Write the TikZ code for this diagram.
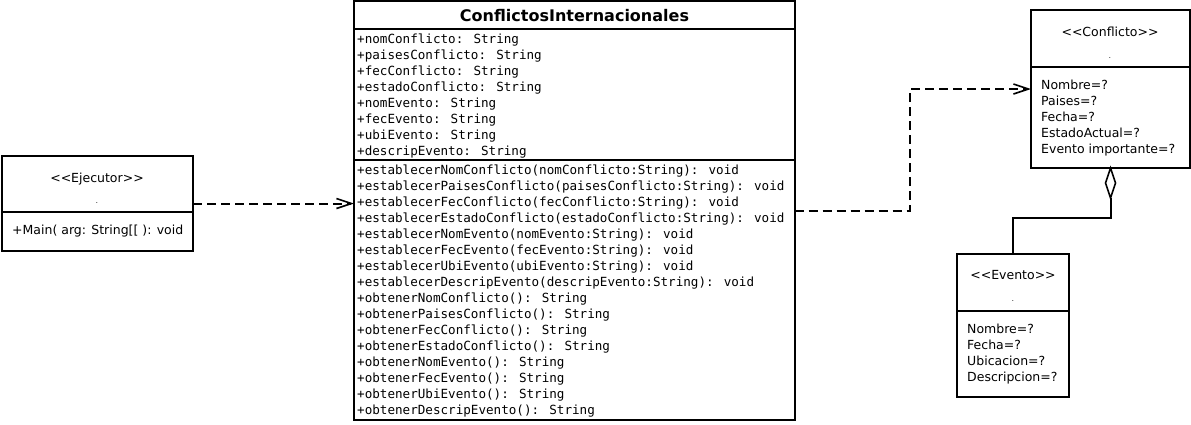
\documentclass[tikz,border=0pt]{standalone}
\usepackage{fontspec}
\setmainfont{DejaVu Sans}
\newfontfamily\monof{DejaVu Sans Mono}
\usetikzlibrary{arrows.meta,shapes.geometric}
\begin{document}
\begin{tikzpicture}[x=1pt,y=-1pt,
  box/.style={draw,line width=2pt,rectangle,inner sep=0,outer sep=0,anchor=north west},
  div/.style={line width=2pt},
  mono/.style={font=\monof\fontsize{12.6}{16}\selectfont,anchor=base west,inner sep=0},
  sans/.style={font=\fontsize{12.5}{16}\selectfont,inner sep=0},
  dotlbl/.style={font=\fontsize{8}{8}\selectfont,text=black!80,inner sep=0,anchor=base},
  dep/.style={line width=2pt,dash pattern=on 9pt off 5pt,-{Straight Barb[length=15pt,width=10pt,line width=1.6pt]}},
  solidline/.style={line width=2pt},
]
\useasboundingbox (0,0) rectangle (1191,424);

% Ejecutor
\node[box,minimum width=191.5pt,minimum height=95pt] (ej) at (1.5,156) {};
\draw[div] (1.5,212) -- (193,212);
\node[sans,anchor=base] (ejs) at (97,182) {<{}<Ejecutor>{}>};
\node[dotlbl] (ejd) at (97,203) {.};
\node[sans,anchor=base west] (ejm) at (12,234) {+Main( arg: String[[ ): void};

% ConflictosInternacionales
\node[box,minimum width=440.5pt,minimum height=419pt] (ci) at (354,1) {};
\draw[div] (354,29) -- (794.5,29);
\draw[div] (354,160) -- (794.5,160);
\node[font=\bfseries\fontsize{16}{18}\selectfont,inner sep=0,anchor=base] (title) at (574.5,21) {ConflictosInternacionales};
\foreach \t [count=\i from 0] in {+nomConflicto: String,+paisesConflicto: String,+fecConflicto: String,+estadoConflicto: String,+nomEvento: String,+fecEvento: String,+ubiEvento: String,+descripEvento: String}
  \node[mono] (at\i) at (357,43+16*\i) {\t};
\foreach \t [count=\i from 0] in {+establecerNomConflicto(nomConflicto:String): void,+establecerPaisesConflicto(paisesConflicto:String): void,+establecerFecConflicto(fecConflicto:String): void,+establecerEstadoConflicto(estadoConflicto:String): void,+establecerNomEvento(nomEvento:String): void,+establecerFecEvento(fecEvento:String): void,+establecerUbiEvento(ubiEvento:String): void,+establecerDescripEvento(descripEvento:String): void,+obtenerNomConflicto(): String,+obtenerPaisesConflicto(): String,+obtenerFecConflicto(): String,+obtenerEstadoConflicto(): String,+obtenerNomEvento(): String,+obtenerFecEvento(): String,+obtenerUbiEvento(): String,+obtenerDescripEvento(): String}
  \node[mono] (me\i) at (357,174+16*\i) {\t};

% Conflicto
\node[box,minimum width=159pt,minimum height=158pt] (co) at (1031,10) {};
\draw[div] (1031,67) -- (1190,67);
\node[sans,anchor=base] (cos) at (1110,36) {<{}<Conflicto>{}>};
\node[dotlbl] (cod) at (1110,58) {.};
\foreach \t [count=\i from 0] in {Nombre=?,Paises=?,Fecha=?,EstadoActual=?,Evento importante=?}
  \node[sans,anchor=base west] (ca\i) at (1041,89+16*\i) {\t};

% Evento
\node[box,minimum width=112pt,minimum height=143pt] (ev) at (957,254) {};
\draw[div] (957,311) -- (1069,311);
\node[sans,anchor=base] (evs) at (1013,279) {<{}<Evento>{}>};
\node[dotlbl] (evd) at (1013,301) {.};
\foreach \t [count=\i from 0] in {Nombre=?,Fecha=?,Ubicacion=?,Descripcion=?}
  \node[sans,anchor=base west] (ea\i) at (967,333+16*\i) {\t};

% connectors
\draw[dep] (ej.east) -- (ej.east -| ci.west);
\draw[dep] (ci.east) -- ++(115.5,0) |- (co.west);
\node[draw,diamond,line width=1.6pt,minimum width=10pt,minimum height=30pt,inner sep=0,outer sep=0,anchor=north,fill=white] (dia) at (co.south) {};
\draw[solidline] (dia.south) -- ++(0,20) -| (ev.north);
\end{tikzpicture}
\end{document}
